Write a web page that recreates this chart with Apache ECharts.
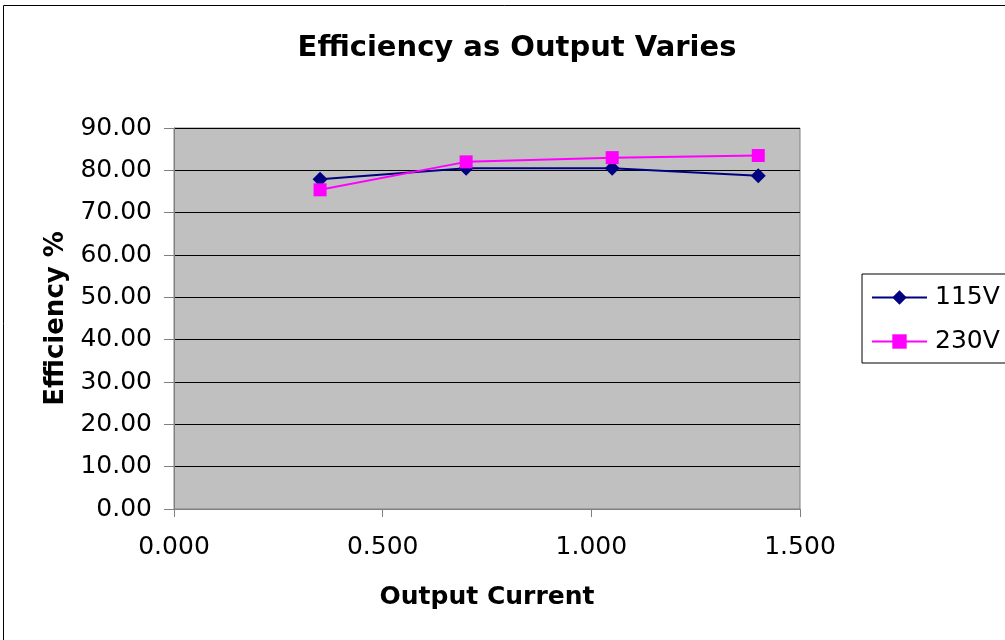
<!DOCTYPE html>
<html>
<head>
<meta charset="utf-8">
<script src="https://cdn.jsdelivr.net/npm/echarts@6/dist/echarts.min.js"></script>
<style>
  html, body { margin: 0; padding: 0; background: #fff; }
  #chart { width: 1005px; height: 640px; }
</style>
</head>
<body>
<div id="chart"></div>
<script>
  // output current (A)
  var current = [0.35, 0.70, 1.05, 1.40]
  // efficiency %
  var eff115 = [77.9, 80.5, 80.5, 78.7]
  var eff230 = [75.4, 82.0, 83.0, 83.5]
  var seriesNames = ['115V', '230V']

  var font = 'DejaVu Sans, Verdana, sans-serif'

  function pairs(xs, ys) {
    return xs.map(function (x, i) { return [x, ys[i]] })
  }

  var chart = echarts.init(document.getElementById('chart'))
  chart.setOption({
    backgroundColor: '#fff',
    animation: false,
    title: {
      text: 'Efficiency as Output Varies',
      left: 512,
      top: 29,
      textAlign: 'center',
      textStyle: {fontFamily: font, fontSize: 29, fontWeight: 'bold', color: '#000'}
    },
    graphic: [
      // outer chart border
      {type: 'rect', shape: {x: 3.5, y: 5.5, width: 1100, height: 700}, style: {fill: null, stroke: '#000', lineWidth: 1}, z: -10}
    ],
    legend: {
      left: 862,
      top: 274,
      orient: 'vertical',
      borderColor: '#000',
      borderWidth: 1,
      padding: [11, 60, 9, 9],
      itemWidth: 55,
      itemHeight: 18,
      itemGap: 19,
      textStyle: {fontFamily: font, fontSize: 25, color: '#000', padding: [0, 0, 0, 3]},
      data: seriesNames
    },
    grid: {
      left: 174,
      top: 128,
      width: 626,
      height: 381,
      show: true,
      backgroundColor: '#c0c0c0',
      borderColor: '#808080',
      borderWidth: 1
    },
    xAxis: {
      type: 'value',
      min: 0,
      max: 1.5,
      interval: 0.5,
      name: 'Output Current',
      nameLocation: 'middle',
      nameGap: 76,
      nameTextStyle: {fontFamily: font, fontSize: 25, fontWeight: 'bold', color: '#000'},
      axisLine: {lineStyle: {color: '#808080'}},
      axisTick: {show: true, length: 8, inside: false, lineStyle: {color: '#808080'}},
      axisLabel: {
        fontFamily: font, fontSize: 25, color: '#000', margin: 26,
        formatter: function (v) { return v.toFixed(3) }
      },
      splitLine: {show: false}
    },
    yAxis: {
      type: 'value',
      min: 0,
      max: 90,
      interval: 10,
      name: 'Efficiency %',
      nameLocation: 'middle',
      nameGap: 104,
      nameTextStyle: {fontFamily: font, fontSize: 26, fontWeight: 'bold', color: '#000'},
      axisLine: {show: true, lineStyle: {color: '#808080'}},
      axisTick: {show: true, length: 10, lineStyle: {color: '#808080'}},
      axisLabel: {
        fontFamily: font, fontSize: 25, color: '#000', margin: 22,
        formatter: function (v) { return v.toFixed(2) }
      },
      splitLine: {show: true, lineStyle: {color: '#000', width: 1}}
    },
    series: [
      {
        name: seriesNames[0],
        type: 'line',
        data: pairs(current, eff115),
        symbol: 'diamond',
        symbolSize: 15,
        color: '#000080',
        lineStyle: {color: '#000080', width: 2},
        itemStyle: {color: '#000080'}
      },
      {
        name: seriesNames[1],
        type: 'line',
        data: pairs(current, eff230),
        symbol: 'rect',
        symbolSize: 13,
        color: '#ff00ff',
        lineStyle: {color: '#ff00ff', width: 2},
        itemStyle: {color: '#ff00ff'}
      }
    ]
  })
</script>
</body>
</html>
